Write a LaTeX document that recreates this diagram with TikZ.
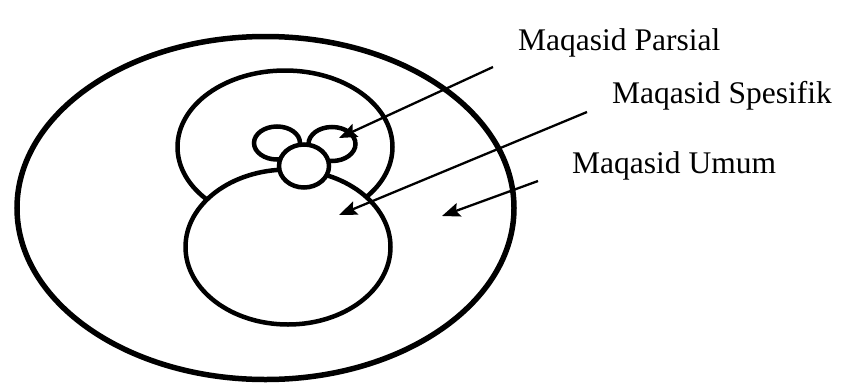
\documentclass[tikz,border=0pt]{standalone}
\usepackage{fontspec}
\setmainfont{Liberation Serif}
\usetikzlibrary{shapes.geometric,arrows.meta}
\begin{document}
\begin{tikzpicture}[x=1pt,y=-1pt,
  ring/.style={draw=black,ellipse,inner sep=0pt,outer sep=0pt,fill=white},
  thick ring/.style={ring,line width=5.5pt},
  mid ring/.style={ring,line width=4.5pt},
  lbl/.style={anchor=base west,inner sep=0pt,font=\fontsize{31.5}{36}\selectfont},
  pointer/.style={line width=2.3pt,-{Stealth[length=18pt,width=14pt,inset=3pt]}}]
\useasboundingbox[fill=white] (0,0) rectangle (843,383);
% circles
\node[thick ring,minimum width=497pt,minimum height=343pt] (umum) at (265.5,208) {};
\node[mid ring,minimum width=215pt,minimum height=153pt] (upper) at (285,147) {};
\node[mid ring,minimum width=205pt,minimum height=155pt] (lower) at (288,247) {};
\node[mid ring,minimum width=46pt,minimum height=33pt] (smallL) at (277,143) {};
\node[mid ring,minimum width=47pt,minimum height=34pt] (smallR) at (332,144) {};
\node[mid ring,minimum width=50pt,minimum height=43pt] (smallM) at (304,166) {};
% labels
\node[lbl] (tParsial) at (518,50) {Maqasid Parsial};
\node[lbl] (tSpesifik) at (612,103) {Maqasid Spesifik};
\node[lbl] (tUmum) at (572,173) {Maqasid Umum};
% arrow ends
\coordinate (sParsial) at (493,67);
\coordinate (sSpesifik) at (587,112);
\coordinate (sUmum) at (538,181);
\coordinate (eParsial) at (339,138);
\coordinate (eSpesifik) at (339,215);
\coordinate (eUmum) at (442,216);
\draw[pointer] (sParsial) -- (eParsial);
\draw[pointer] (sSpesifik) -- (eSpesifik);
\draw[pointer] (sUmum) -- (eUmum);
\end{tikzpicture}
\end{document}
